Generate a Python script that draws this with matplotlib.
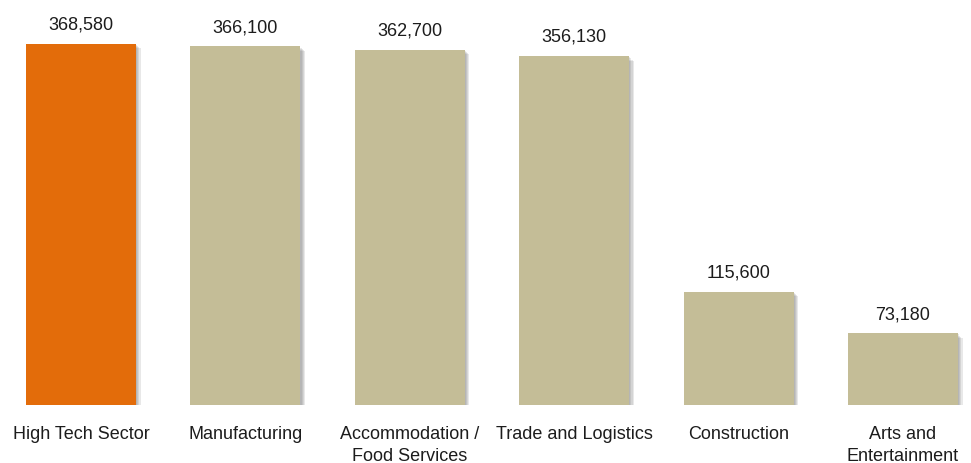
import matplotlib
matplotlib.use('Agg')
from matplotlib import pyplot as plt
from matplotlib import patheffects as pe

categories = ['High Tech Sector', 'Manufacturing', 'Accommodation /\nFood Services',
              'Trade and Logistics', 'Construction', 'Arts and\nEntertainment']
values = [368580, 366100, 362700, 356130, 115600, 73180]
colors = ['#E36C0A', '#C4BD97', '#C4BD97', '#C4BD97', '#C4BD97', '#C4BD97']

plt.rcParams['font.family'] = ['Liberation Sans', 'DejaVu Sans']

fig = plt.figure(figsize=(9.71, 4.64), dpi=100)
ax = fig.add_axes([0, 58 / 464, 1, 406 / 464])

# soft drop shadow built from a few offset copies
shadow = [pe.SimplePatchShadow(offset=(d, -d), shadow_rgbFace='#606060', alpha=0.14)
          for d in (0.8, 1.6, 2.4, 3.2)]
bars = ax.bar(range(len(values)), values, width=0.67, color=colors,
              path_effects=shadow + [pe.Normal()])

for i, v in enumerate(values):
    ax.annotate(f'{v:,}', (i, v), xytext=(0, 11), textcoords='offset points',
                ha='center', va='baseline', fontsize=13, color='#1c1c1c')
    ax.annotate(categories[i], (i, 0), xytext=(0, -14.5), textcoords='offset points',
                ha='center', va='top', fontsize=13, color='#1c1c1c',
                linespacing=1.35, annotation_clip=False)

ax.set_xlim(-81 / 164.4, (971 - 81) / 164.4)
ax.set_ylim(0, 368580 * 406 / 361)
ax.axis('off')

fig.savefig('out.png', dpi=100)
